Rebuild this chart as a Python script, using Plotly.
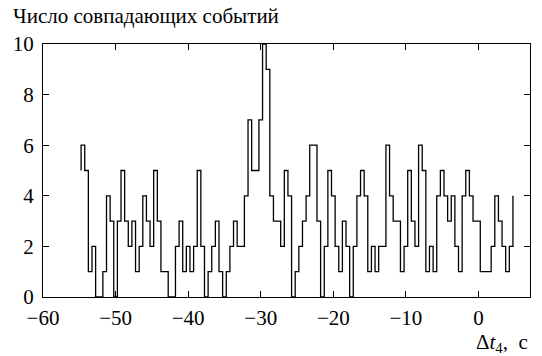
import plotly.graph_objects as go

# Histogram of coincident events, bin width 0.5 s
bin_start = -54.75
bin_width = 0.5
start_level = 5
counts = [
    6, 5, 1, 2, 0, 0, 1, 4, 3, 0,
    3, 5, 3, 2, 3, 1, 2, 4, 3, 2,
    5, 3, 1, 1, 0, 0, 2, 3, 1, 2,
    1, 2, 5, 2, 0, 1, 2, 3, 1, 0,
    1, 2, 3, 2, 2, 4, 7, 5, 5, 7,
    10, 9, 4, 3, 3, 2, 5, 4, 0, 1,
    2, 3, 4, 6, 6, 3, 0, 2, 5, 4,
    2, 1, 3, 2, 0, 2, 4, 5, 4, 1,
    2, 1, 2, 2, 6, 4, 3, 3, 1, 2,
    5, 3, 2, 6, 5, 1, 2, 1, 4, 5,
    4, 3, 4, 2, 1, 4, 5, 4, 3, 3,
    1, 1, 1, 2, 4, 3, 2, 1, 2,
]
end_level = 4
x_ticks = [-60, -50, -40, -30, -20, -10, 0]
y_ticks = [0, 2, 4, 6, 8, 10]

edges = [bin_start + bin_width * i for i in range(len(counts) + 1)]
xs = [edges[0]] + edges
ys = [start_level] + counts + [end_level]

FONT = "Liberation Serif, Times New Roman, serif"

fig = go.Figure()
fig.add_trace(go.Scatter(
    x=xs, y=ys, mode="lines", line=dict(color="black", width=1.3, shape="hv"),
    hoverinfo="skip", showlegend=False,
))

axis_common = dict(
    showline=True, linecolor="black", linewidth=1.2, mirror="allticks",
    ticks="inside", ticklen=6, tickwidth=1.1, tickcolor="black",
    showgrid=False, zeroline=False,
    tickfont=dict(family=FONT, size=21, color="black"),
)
fig.update_xaxes(range=[-60, 7.1], tickvals=x_ticks, ticklabelstandoff=2,
                 **axis_common)
fig.update_yaxes(range=[0, 10], tickvals=y_ticks, ticklabelstandoff=4,
                 **axis_common)

fig.update_layout(
    width=542, height=356,
    margin=dict(l=43, r=12, t=44, b=59),
    plot_bgcolor="white", paper_bgcolor="white",
    annotations=[
        dict(text="Число совпадающих событий", xref="paper", yref="paper",
             x=-32 / 487, y=1 + 28 / 253, xanchor="left", yanchor="middle",
             showarrow=False, font=dict(family=FONT, size=21, color="black")),
        dict(text="Δ<i>t</i><sub>4</sub>,\u00a0\u00a0с", xref="paper", yref="paper",
             x=1.0, y=-45.5 / 253, xanchor="right", yanchor="middle",
             showarrow=False, font=dict(family=FONT, size=21, color="black")),
    ],
)

fig.write_html("out.html")
